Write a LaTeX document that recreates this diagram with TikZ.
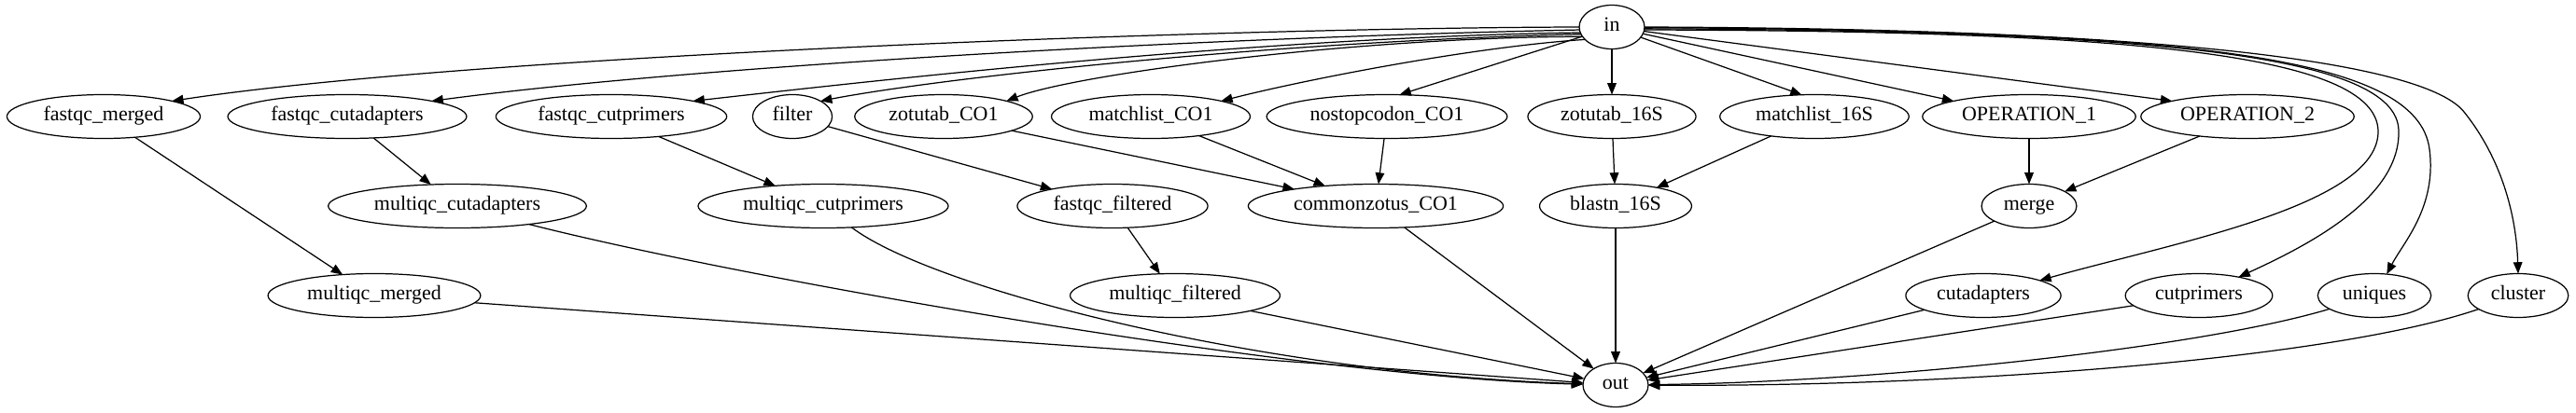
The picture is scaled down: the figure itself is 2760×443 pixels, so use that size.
\documentclass[tikz,border=0pt]{standalone}
\usepackage{fontspec}
\setmainfont{Liberation Serif}
\usetikzlibrary{shapes.geometric}
\usetikzlibrary{arrows.meta}

\begin{document}
\begin{tikzpicture}[x=0.02cm, y=-0.02cm, line width=0.7pt, >={Triangle[length=7pt,width=5.5pt]},
	op/.style={draw, ellipse, outer sep=0, inner xsep=5pt, inner ysep=2pt, minimum height=0.94cm, text height=0.7em, text depth=0.2em, font=\fontsize{12.5}{15}\selectfont}]
\useasboundingbox (0,0) rectangle (2760,443);

\node [op, minimum width=1.4cm] (v0) at (1727,29) {in};

\node [op] (v1) at (111,125) {fastqc\_merged};
\node [op] (v2) at (372,125) {fastqc\_cutadapters};
\node [op] (v3) at (655,125) {fastqc\_cutprimers};
\node [op] (v4) at (849,125) {filter};
\node [op] (v5) at (1011,125) {zotutab\_CO1};
\node [op] (v6) at (1233,125) {matchlist\_CO1};
\node [op] (v7) at (1486,125) {nostopcodon\_CO1};
\node [op] (v8) at (1727,125) {zotutab\_16S};
\node [op] (v9) at (1944,125) {matchlist\_16S};
\node [op] (v10) at (2174,125) {OPERATION\_1};
\node [op] (v11) at (2408,125) {OPERATION\_2};

\node [op] (v12) at (490,221) {multiqc\_cutadapters};
\node [op] (v13) at (882,221) {multiqc\_cutprimers};
\node [op] (v14) at (1192,221) {fastqc\_filtered};
\node [op] (v15) at (1474,221) {commonzotus\_CO1};
\node [op] (v16) at (1731,221) {blastn\_16S};
\node [op] (v17) at (2174,221) {merge};

\node [op] (v18) at (401,317) {multiqc\_merged};
\node [op] (v19) at (1259,317) {multiqc\_filtered};
\node [op] (v20) at (2125,317) {cutadapters};
\node [op] (v21) at (2356,317) {cutprimers};
\node [op] (v22) at (2544,317) {uniques};
\node [op] (v23) at (2698,317) {cluster};

\node [op, minimum width=1.4cm] (v24) at (1731,413) {out};

\draw [->] (v0.west) .. controls (1300,30) and (500,60) .. (v1.north east);
\draw [->] (v0.185) .. controls (1300,40) and (750,70) .. (v2.north east);
\draw [->] (v0.190) .. controls (1350,40) and (950,85) .. (v3.north east);
\draw [->] (v0.193) .. controls (1350,45) and (1000,85) .. (v4.north east);
\draw [->] (v0.198) .. controls (1450,40) and (1150,80) .. (v5.north east);
\draw [->] (v0.205) .. controls (1580,50) and (1400,85) .. (v6.north east);
\draw [->] (v0) -- (v7.60);
\draw [->] (v0) edge (v8);
\draw [->] (v0) -- (v9.120);
\draw [->] (v0) -- (v10.north west);
\draw [->] (v0) -- (v11.north west);

\draw [->] (v0.355) .. controls (2300,33) and (2545,60) .. (2548,140) .. controls (2550,220) and (2330,260) .. (v20.15);
\draw [->] (v0.357) .. controls (2320,33) and (2568,60) .. (2570,140) .. controls (2572,210) and (2480,260) .. (v21.25);
\draw [->] (v0.359) .. controls (2350,33) and (2590,60) .. (2603,160) .. controls (2611,222) and (2575,260) .. (v22.60);
\draw [->] (v0.east) .. controls (2350,31) and (2600,70) .. (2640,120) .. controls (2680,170) and (2696,230) .. (v23.north);

\draw [->] (v1) edge (v18);
\draw [->] (v2) edge (v12);
\draw [->] (v3) edge (v13);
\draw [->] (v4) edge (v14);
\draw [->] (v5) edge (v15);
\draw [->] (v6) edge (v15);
\draw [->] (v7) edge (v15);
\draw [->] (v8) edge (v16);
\draw [->] (v9) edge (v16);
\draw [->] (v10) edge (v17);
\draw [->] (v11) edge (v17);
\draw [->] (v14) edge (v19);

\draw [->] (v18) edge (v24);
\draw [->] (v12) .. controls (800,300) and (1400,405) .. (v24);
\draw [->] (v13) .. controls (1000,310) and (1350,400) .. (v24);
\draw [->] (v19) edge (v24);
\draw [->] (v15) edge (v24);
\draw [->] (v16) edge (v24);
\draw [->] (v17) edge (v24);
\draw [->] (v20) edge (v24);
\draw [->] (v21) edge (v24);
\draw [->] (v22) .. controls (2350,375) and (2000,410) .. (v24);
\draw [->] (v23) .. controls (2500,385) and (2100,415) .. (v24);
\end{tikzpicture}
\end{document}
